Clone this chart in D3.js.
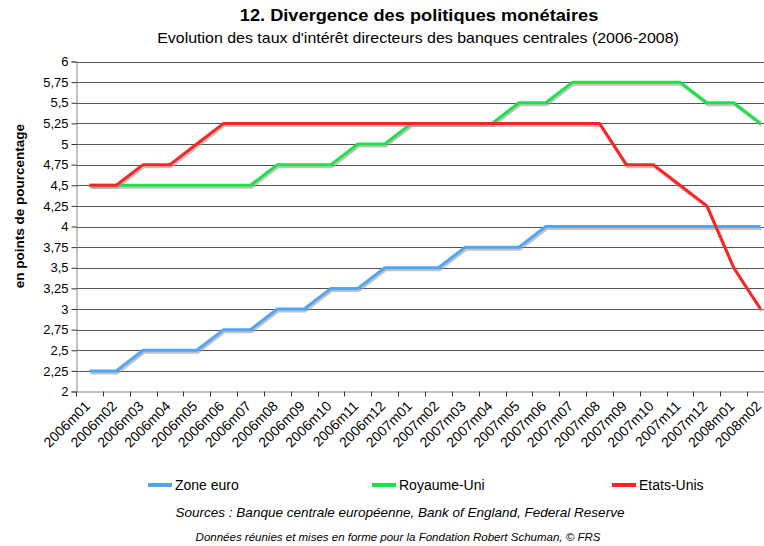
<!DOCTYPE html>
<html>
<head>
<meta charset="utf-8">
<script src="https://cdn.jsdelivr.net/npm/d3@7/dist/d3.min.js"></script>
<style>
  body { margin: 0; background: #fff; }
  svg text { font-family: "Liberation Sans", Arial, sans-serif; fill: #000; }
</style>
</head>
<body>
<div id="chart"></div>
<script>
// DATA
const months = ["2006m01","2006m02","2006m03","2006m04","2006m05","2006m06","2006m07","2006m08","2006m09","2006m10","2006m11","2006m12",
  "2007m01","2007m02","2007m03","2007m04","2007m05","2007m06","2007m07","2007m08","2007m09","2007m10","2007m11","2007m12",
  "2008m01","2008m02"]

const zoneEuro   = [2.25,2.25,2.5,2.5,2.5,2.75,2.75,3,3,3.25,3.25,3.5,3.5,3.5,3.75,3.75,3.75,4,4,4,4,4,4,4,4,4]
const royaumeUni = [4.5,4.5,4.5,4.5,4.5,4.5,4.5,4.75,4.75,4.75,5,5,5.25,5.25,5.25,5.25,5.5,5.5,5.75,5.75,5.75,5.75,5.75,5.5,5.5,5.25]
const etatsUnis  = [4.5,4.5,4.75,4.75,5,5.25,5.25,5.25,5.25,5.25,5.25,5.25,5.25,5.25,5.25,5.25,5.25,5.25,5.25,5.25,4.75,4.75,4.5,4.25,3.5,3]

const yTicks = [2,2.25,2.5,2.75,3,3.25,3.5,3.75,4,4.25,4.5,4.75,5,5.25,5.5,5.75,6]

const seriesNames = ["Zone euro","Royaume-Uni","Etats-Unis"]
const seriesColors = ["#4fa6f8","#1ee24a","#ff2424"]

const width = 764, height = 546

const svg = d3.select("#chart").append("svg")
  .attr("width", width)
  .attr("height", height)

// SCALES (plot runs past the right edge, like the cropped original)
const xScale = d3.scaleBand()
  .domain(months)
  .range([76, 774])

const yScale = d3.scaleLinear()
  .domain([2, 6])
  .range([391.5, 61.5])

// TITLES - the original type is a bit wider than Arial, so stretch it
svg.append("text")
  .attr("transform", "translate(419,21) scale(1.14,1)")
  .attr("text-anchor", "middle")
  .attr("font-size", 16).attr("font-weight", "bold")
  .text("12. Divergence des politiques monétaires")

svg.append("text")
  .attr("transform", "translate(418,43) scale(1.14,1)")
  .attr("text-anchor", "middle")
  .attr("font-size", 14)
  .text("Evolution des taux d'intérêt directeurs des banques centrales (2006-2008)")

// GRID
svg.append("g")
  .selectAll("line")
  .data(yTicks.filter(d => d > 2))
  .join("line")
    .attr("x1", 76).attr("x2", width)
    .attr("y1", d => Math.round(yScale(d)) + 0.5)
    .attr("y2", d => Math.round(yScale(d)) + 0.5)
    .attr("stroke", "#555")
    .attr("stroke-width", 1)

// Y AXIS
const yAxis = d3.axisLeft(yScale)
  .tickValues(yTicks)
  .tickSize(5)
  .tickPadding(3)
  .tickFormat(d => String(d).replace(".", ","))

svg.append("g")
  .attr("transform", "translate(76.5,0)")
  .call(yAxis)
  .call(g => g.select(".domain").attr("stroke", "#888"))
  .call(g => g.selectAll(".tick line").attr("stroke", "#333"))
  .selectAll("text")
    .attr("font-size", 13)

svg.append("text")
  .attr("transform", "translate(24,206) rotate(-90)")
  .attr("text-anchor", "middle")
  .attr("font-size", 13.5).attr("font-weight", "bold")
  .text("en points de pourcentage")

// X AXIS
const xAxis = d3.axisBottom(xScale).tickSize(0).tickPadding(0)

const xg = svg.append("g")
  .attr("transform", "translate(0,391.5)")
  .call(xAxis)

xg.select(".domain").attr("stroke", "#888")

xg.selectAll(".tick text")
  .attr("font-size", 14)
  .attr("text-anchor", "end")
  .attr("y", 0).attr("dy", "0.35em")
  .attr("transform", "translate(-2,12) rotate(-45)")

// tick marks sit between the categories
xg.selectAll(".sep")
  .data(months)
  .join("line")
    .attr("class", "sep")
    .attr("x1", d => Math.round(xScale(d)) + 0.5)
    .attr("x2", d => Math.round(xScale(d)) + 0.5)
    .attr("y1", 0).attr("y2", 5)
    .attr("stroke", "#333")

// LINES
const line = d3.line()
  .x((d, i) => xScale(months[i]) + xScale.bandwidth() / 2)
  .y(d => yScale(d))

const allSeries = [zoneEuro, royaumeUni, etatsUnis]

allSeries.forEach((s, k) => {
  // excel-like drop shadow
  svg.append("path")
    .datum(s)
    .attr("d", line)
    .attr("fill", "none")
    .attr("stroke", "#9a9a9a")
    .attr("stroke-opacity", 0.6)
    .attr("stroke-width", 3)
    .attr("transform", "translate(1,2)")
  svg.append("path")
    .datum(s)
    .attr("d", line)
    .attr("fill", "none")
    .attr("stroke", seriesColors[k])
    .attr("stroke-width", 3)
    .attr("stroke-linejoin", "round")
})

// LEGEND
const legendX = [148, 372, 612]
const legend = svg.append("g")
  .selectAll("g")
  .data(seriesNames)
  .join("g")
    .attr("transform", (d, i) => `translate(${legendX[i]},485)`)

legend.append("line")
  .attr("x1", 0).attr("x2", 24)
  .attr("stroke", (d, i) => seriesColors[i])
  .attr("stroke-width", 4)

legend.append("text")
  .attr("x", 27).attr("y", 5)
  .attr("font-size", 14)
  .text(d => d)

// SOURCES
svg.append("text")
  .attr("x", 400).attr("y", 517)
  .attr("text-anchor", "middle")
  .attr("font-size", 13.5).attr("font-style", "italic")
  .text("Sources : Banque centrale européenne, Bank of England, Federal Reserve")

svg.append("text")
  .attr("x", 398).attr("y", 541)
  .attr("text-anchor", "middle")
  .attr("font-size", 11.5).attr("font-style", "italic")
  .text("Données réunies et mises en forme pour la Fondation Robert Schuman, © FRS")
</script>
</body>
</html>
